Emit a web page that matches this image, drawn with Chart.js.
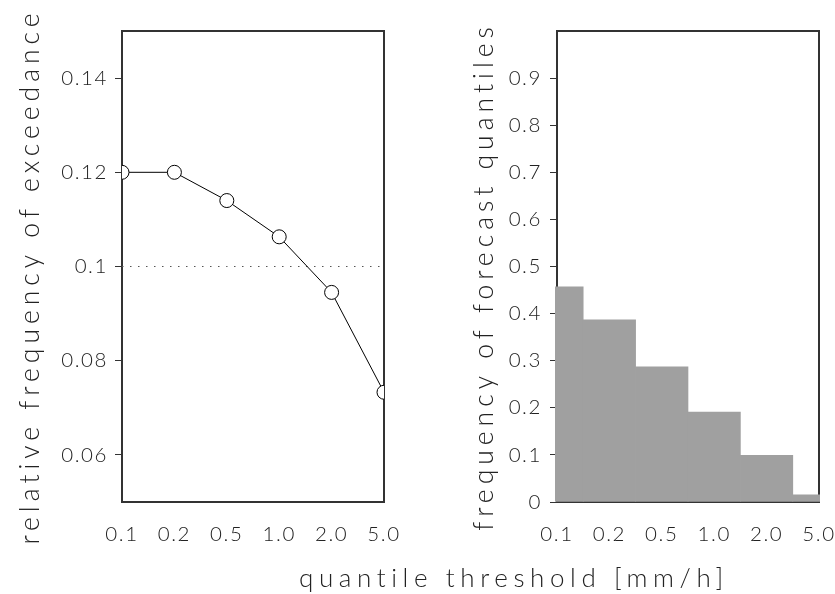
<!DOCTYPE html>
<html>
<head>
<meta charset="utf-8">
<script src="https://cdn.jsdelivr.net/npm/chart.js@4.4.1/dist/chart.umd.min.js"></script>
<style>
html, body { margin: 0; padding: 0; background: #fff; width: 835px; height: 594px; overflow: hidden; }
#wrap { position: relative; width: 835px; height: 594px; }
canvas { position: absolute; top: 0; }
#c1 { left: 0; }
#c2 { left: 420px; }
#xt { position: absolute; left: 299px; top: 564px; font-family: Lato, "DejaVu Sans", sans-serif; font-weight: 300;
      font-size: 26px; line-height: 26px; letter-spacing: 5.6px; color: #222; white-space: nowrap; }
</style>
</head>
<body>
<div id="wrap">
  <canvas id="c1" width="420" height="594"></canvas>
  <canvas id="c2" width="415" height="594"></canvas>
  <div id="xt">quantile threshold [mm/h]</div>
</div>
<script>
// ---- data ----
const thresholdLabels = ['0.1', '0.2', '0.5', '1.0', '2.0', '5.0'];
const exceedanceFreq = [0.120, 0.120, 0.114, 0.1063, 0.0945, 0.0733];
const nominalLevel = [0.1, 0.1, 0.1, 0.1, 0.1, 0.1];
const quantileFreq = [0.457, 0.387, 0.287, 0.191, 0.099, 0.015];
const leftYTicks = [0.06, 0.08, 0.1, 0.12, 0.14];
const leftYTickLabels = ['0.06', '0.08', '0.1', '0.12', '0.14'];
const rightYTicks = [0, 0.1, 0.2, 0.3, 0.4, 0.5, 0.6, 0.7, 0.8, 0.9];
const rightYTickLabels = ['0', '0.1', '0.2', '0.3', '0.4', '0.5', '0.6', '0.7', '0.8', '0.9'];

// ---- style ----
const FONT = 'Lato, "DejaVu Sans", sans-serif';
const TEXT = '#222';
const TICK_SIZE = 20.5;
const TITLE_SIZE = 26.5;
const TICK_SPACING = '1.6px';
const TITLE_SPACING = '5px';
const TITLE_SHIFT = 20; // moves the y-axis title centre down by half this amount

Chart.defaults.font.family = FONT;
Chart.defaults.font.weight = '300';
Chart.defaults.color = TEXT;

const spacingPlugin = {
  id: 'spacing',
  beforeInit(chart) {
    const ctx = chart.ctx;
    const orig = ctx.fillText;
    ctx.fillText = function (text, x, y, maxW) {
      const m = /(\d+(?:\.\d+)?)px/.exec(this.font);
      const size = m ? parseFloat(m[1]) : 12;
      this.letterSpacing = size >= 22 ? TITLE_SPACING : TICK_SPACING;
      if (maxW === undefined) return orig.call(this, text, x, y);
      return orig.call(this, text, x, y, maxW);
    };
  },
  afterLayout(chart) {
    chart.scales.y.bottom += TITLE_SHIFT;
  }
};

const framePlugin = {
  id: 'frame',
  beforeDatasetsDraw(chart) {
    const { ctx, chartArea: a } = chart;
    ctx.save();
    ctx.strokeStyle = '#333';
    ctx.lineWidth = 2;
    ctx.strokeRect(a.left, a.top, a.right - a.left, a.bottom - a.top);
    ctx.restore();
  }
};

function xScale() {
  return {
    type: 'category',
    offset: false,
    grid: { display: false, drawTicks: false },
    border: { display: false },
    ticks: { font: { size: TICK_SIZE }, color: TEXT, padding: 20, maxRotation: 0, minRotation: 0, autoSkip: false },
    afterFit(s) { s.height = 92; s.paddingLeft = 0; s.paddingRight = 0; }
  };
}

function yScale(min, max, ticks, labels, title, width, pad) {
  return {
    min: min, max: max,
    afterBuildTicks(s) { s.ticks = ticks.map(v => ({ value: v })); },
    ticks: { callback: (v, i) => labels[i], font: { size: TICK_SIZE }, color: TEXT, padding: pad },
    grid: { drawOnChartArea: false, drawTicks: true, tickLength: 7, color: '#333', lineWidth: 1 },
    border: { display: false },
    title: { display: true, text: title, font: { size: TITLE_SIZE }, color: TEXT, padding: 0 },
    afterFit(s) { s.width = width; s.paddingTop = 0; s.paddingBottom = 0; }
  };
}

new Chart(document.getElementById('c1'), {
  type: 'line',
  data: {
    labels: thresholdLabels,
    datasets: [
      { data: exceedanceFreq, borderColor: '#000', borderWidth: 1, tension: 0,
        pointRadius: 7, pointBackgroundColor: '#fff', pointBorderColor: '#000', pointBorderWidth: 1, clip: 0 },
      { data: nominalLevel, borderColor: '#555', borderWidth: 1, borderDash: [1.5, 6.5], pointRadius: 0, clip: 0 }
    ]
  },
  options: {
    responsive: false, animation: false, events: [],
    layout: { padding: { left: 15, top: 31, right: 36, bottom: 0 } },
    plugins: { legend: { display: false }, tooltip: { enabled: false } },
    scales: {
      x: xScale(),
      y: yScale(0.05, 0.15, leftYTicks, leftYTickLabels, 'relative frequency of exceedance', 107, 7)
    }
  },
  plugins: [spacingPlugin, framePlugin]
});

new Chart(document.getElementById('c2'), {
  type: 'bar',
  data: {
    labels: thresholdLabels,
    datasets: [
      { data: quantileFreq, backgroundColor: '#a0a0a0', borderWidth: 0,
        categoryPercentage: 1, barPercentage: 1, clip: { left: 2, right: 1, top: 0, bottom: 0 } }
    ]
  },
  options: {
    responsive: false, animation: false, events: [],
    layout: { padding: { left: 49, top: 31, right: 16, bottom: 0 } },
    plugins: { legend: { display: false }, tooltip: { enabled: false } },
    scales: {
      x: xScale(),
      y: yScale(0, 1, rightYTicks, rightYTickLabels, 'frequency of forecast quantiles', 88, 8)
    }
  },
  plugins: [spacingPlugin, framePlugin]
});
</script>
</body>
</html>
